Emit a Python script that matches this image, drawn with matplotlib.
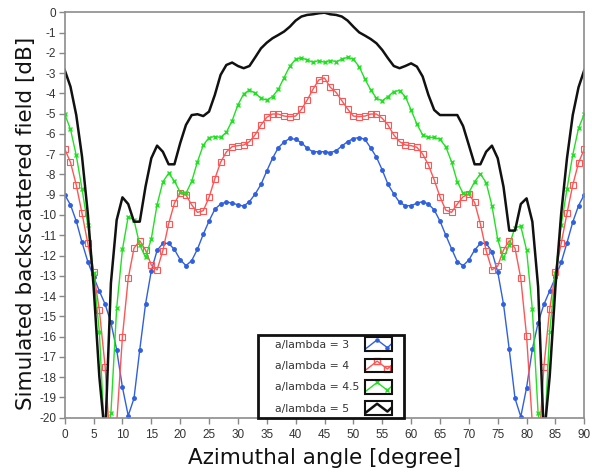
import numpy as np
import matplotlib
matplotlib.use("Agg")
import matplotlib.pyplot as plt
from matplotlib.legend_handler import HandlerBase
from matplotlib.lines import Line2D
from matplotlib.patches import Rectangle

plt.rcParams['axes.unicode_minus'] = False

# azimuth angles, 1 degree step
angle = list(range(0, 91))

# a/lambda = 3
blue = [-9.0, -9.5, -10.3, -11.35, -12.3, -13.05, -13.75, -14.4, -15.3, -16.65,
        -18.5, -19.9, -19.05, -16.65, -14.4, -12.75, -11.75, -11.4, -11.4, -11.7,
        -12.2, -12.5, -12.25, -11.68, -10.95, -10.3, -9.72, -9.46, -9.36, -9.41,
        -9.5, -9.56, -9.34, -8.96, -8.49, -7.83, -7.2, -6.68, -6.4, -6.22,
        -6.27, -6.43, -6.71, -6.88, -6.88, -6.88, -6.92, -6.83, -6.6, -6.38,
        -6.23, -6.18, -6.27, -6.69, -7.15, -7.78, -8.49, -8.96, -9.38, -9.54,
        -9.54, -9.42, -9.34, -9.46, -9.75, -10.3, -10.99, -11.66, -12.3, -12.5,
        -12.22, -11.73, -11.4, -11.4, -11.81, -12.8, -14.39, -16.63, -19.05, -19.95,
        -18.52, -16.63, -15.31, -14.41, -13.75, -13.08, -12.34, -11.37, -10.35, -9.54,
        -9.0]

# a/lambda = 4
red = [-6.74, -7.4, -8.52, -9.92, -11.4, -12.83, -14.69, -17.48, -22.0, -20.3,
       -16.0, -13.13, -11.64, -11.27, -11.73, -12.47, -12.71, -11.76, -10.44, -9.42,
       -8.93, -9.01, -9.5, -9.87, -9.79, -9.13, -8.22, -7.4, -6.89, -6.63,
       -6.58, -6.55, -6.38, -6.04, -5.56, -5.18, -5.02, -5.02, -5.12, -5.15,
       -5.12, -4.79, -4.33, -3.8, -3.34, -3.24, -3.7, -3.95, -4.36, -4.77,
       -5.12, -5.15, -5.12, -5.02, -5.02, -5.23, -5.56, -6.05, -6.38, -6.55,
       -6.58, -6.66, -6.99, -7.53, -8.27, -9.1, -9.76, -9.87, -9.46, -9.1,
       -8.98, -9.38, -10.44, -11.76, -12.71, -12.52, -11.73, -11.27, -11.64, -13.13,
       -15.97, -20.3, -22.0, -17.48, -14.65, -12.83, -11.4, -9.92, -8.52, -7.43,
       -6.74]

# a/lambda = 4.5
green = [-5.02, -5.77, -7.06, -8.72, -10.49, -12.88, -15.76, -21.5, -19.79, -14.6,
         -11.7, -10.08, -10.25, -11.48, -12.09, -11.18, -9.49, -8.37, -7.94, -8.32,
         -8.88, -8.93, -8.34, -7.37, -6.56, -6.18, -6.13, -6.17, -5.92, -5.35,
         -4.57, -4.03, -3.83, -4.0, -4.24, -4.33, -4.16, -3.8, -3.22, -2.65,
         -2.32, -2.25, -2.35, -2.47, -2.38, -2.47, -2.38, -2.43, -2.32, -2.22,
         -2.32, -2.68, -3.29, -3.83, -4.24, -4.36, -4.16, -3.91, -3.86, -4.16,
         -4.82, -5.51, -6.05, -6.17, -6.17, -6.27, -6.63, -7.37, -8.36, -8.93,
         -8.9, -8.36, -7.98, -8.4, -9.54, -11.2, -12.14, -11.48, -10.62, -10.56,
         -11.73, -14.65, -19.79, -21.5, -15.76, -12.88, -10.49, -8.72, -7.04, -5.72,
         -5.02]

# a/lambda = 5
black = [-2.85, -3.67, -5.07, -7.12, -9.92, -13.5, -17.98, -21.0, -13.37, -10.25,
         -9.13, -9.46, -10.33, -10.33, -8.6, -7.2, -6.58, -6.88, -7.5, -7.5,
         -6.46, -5.56, -5.07, -5.03, -5.12, -4.9, -4.08, -3.09, -2.6, -2.48,
         -2.65, -2.76, -2.65, -2.22, -1.78, -1.5, -1.28, -1.12, -0.95, -0.71,
         -0.41, -0.21, -0.13, -0.1, -0.05, -0.02, -0.1, -0.13, -0.21, -0.41,
         -0.71, -0.99, -1.15, -1.32, -1.53, -1.86, -2.27, -2.65, -2.76, -2.65,
         -2.52, -2.68, -3.17, -4.08, -4.82, -5.07, -5.07, -5.07, -5.07, -5.61,
         -6.55, -7.5, -7.5, -6.88, -6.58, -7.2, -8.6, -10.77, -10.77, -9.46,
         -9.18, -10.33, -13.54, -21.0, -17.98, -13.54, -9.92, -7.2, -5.07, -3.7,
         -2.85]

labels = ['a/lambda = 3', 'a/lambda = 4', 'a/lambda = 4.5', 'a/lambda = 5']
xticks = list(range(0, 91, 5))
yticks = list(range(-20, 1))


class BoxedZigzag(HandlerBase):
    # legend sample: small framed box with a zigzag line inside,
    # drawn in the left part of the slot so some padding is left on the right
    def create_artists(self, legend, orig_handle, xdescent, ydescent,
                       width, height, fontsize, trans):
        w = width * 0.77
        x0, y0 = -xdescent, -ydescent
        xs = x0 + w * np.array([0.06, 0.45, 0.82, 0.95])
        ys = y0 + height * np.array([0.2, 0.82, 0.25, 0.5])
        line = Line2D(xs, ys, color=orig_handle.get_color(),
                      lw=orig_handle.get_linewidth(),
                      marker=orig_handle.get_marker(),
                      markersize=orig_handle.get_markersize() * 0.9,
                      markerfacecolor=orig_handle.get_markerfacecolor(),
                      markeredgecolor=orig_handle.get_markeredgecolor(),
                      markevery=[1, 2], transform=trans)
        box = Rectangle((x0, y0), w, height, fill=False,
                        edgecolor='#111111', lw=1.5, transform=trans)
        return [line, box]


fig = plt.figure(figsize=(5.92, 4.74), dpi=100)
ax = fig.add_axes([0.1093, 0.1188, 0.8777, 0.8553])

l1, = ax.plot(angle, blue, '-', color='#3060e0', lw=1.0, marker='o', ms=2.5)
l2, = ax.plot(angle, red, '-', color='#ff5555', lw=1.0, marker='s', ms=4.5,
              mfc='none', mew=0.8)
l3, = ax.plot(angle, green, '-', color='#22e022', lw=1.0, marker='x', ms=3.5, mew=1.0)
l4, = ax.plot(angle, black, '-', color='#111111', lw=1.8)

ax.set_xlim(0, 90)
ax.set_ylim(-20, 0)
ax.set_xticks(xticks)
ax.set_yticks(yticks)
ax.set_xticklabels([str(t) for t in xticks], fontsize=8.5, color='#333333',
                   family='Liberation Sans')
ax.set_yticklabels([str(t) for t in yticks], fontsize=8.5, color='#333333',
                   family='Liberation Sans')
ax.tick_params(direction='out', length=4, width=1, color='#888888')
ax.tick_params(axis='x', pad=4)
ax.tick_params(axis='y', pad=2)
for s in ax.spines.values():
    s.set_color('#8c8c8c')
    s.set_linewidth(1.2)

ax.set_xlabel('Azimuthal angle [degree]', fontsize=15.5, color='#111111')
ax.set_ylabel('Simulated backscattered field [dB]', fontsize=15.5, color='#111111')
ax.xaxis.set_label_coords(0.5, -0.075)
ax.yaxis.set_label_coords(-0.055, 0.48)

# legend rows are right-aligned when markerfirst=False, so pad the shorter
# labels with trailing spaces (". 5" width == 3 spaces in DejaVu Sans)
leg_labels = ['    ' + s + ('' if '.' in s else '   ') for s in labels]
hm = {h: BoxedZigzag() for h in (l1, l2, l3, l4)}
leg = ax.legend([l1, l2, l3, l4], leg_labels, handler_map=hm,
                markerfirst=False, loc='lower left', bbox_to_anchor=(0.3726, 0.0),
                borderaxespad=0, fontsize=7.8, handlelength=3.35, handleheight=1.57,
                labelspacing=0.7, handletextpad=0.45, borderpad=0.25,
                fancybox=False, framealpha=1)
leg.get_frame().set_edgecolor('#111111')
leg.get_frame().set_linewidth(2)
for t in leg.get_texts():
    t.set_color('#333333')

fig.savefig('out.png', dpi=100)
